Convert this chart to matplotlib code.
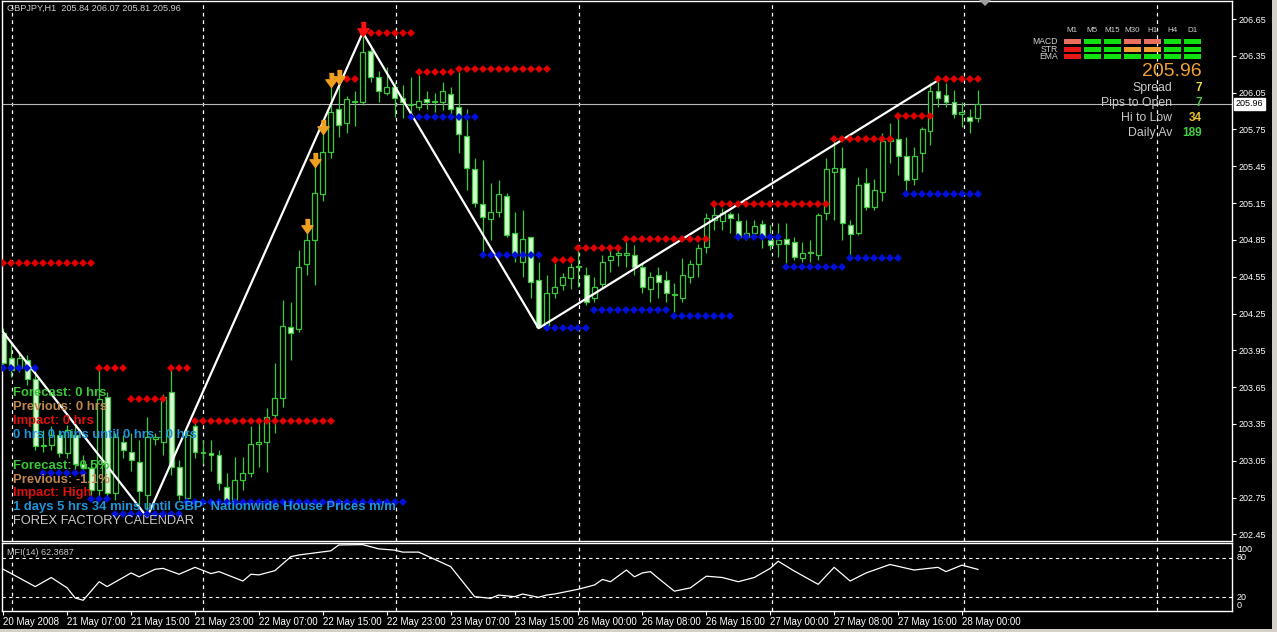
import numpy as np
import matplotlib
matplotlib.use('Agg')
import matplotlib.pyplot as plt
from matplotlib.patches import Rectangle, Polygon
from matplotlib import transforms

plt.rcParams['font.family'] = ['Liberation Sans', 'DejaVu Sans']

# GBPJPY H1 candles, bar 0 = 20 May 2008 23:00
opens = [204.09, 203.89, 203.81, 203.87, 203.72, 203.17, 203.18, 203.26, 203.11, 203.26,
         203.02, 202.99, 202.81, 203.57, 202.79, 203.20, 203.12, 203.04, 202.77, 203.23,
         203.20, 203.61, 203.00, 202.75, 203.33, 203.11, 203.11, 203.10, 202.84, 202.73,
         202.89, 202.95, 203.19, 203.20, 203.42, 203.56, 204.14, 204.12, 204.65, 204.85,
         205.22, 205.57, 205.92, 205.80, 205.97, 205.97, 206.39, 206.18, 206.05, 206.10,
         206.01, 205.95, 205.93, 206.00, 205.97, 205.97, 206.04, 205.93, 205.70, 205.43,
         205.14, 205.02, 205.08, 205.21, 204.91, 204.67, 204.87, 204.52, 204.16, 204.42,
         204.48, 204.54, 204.63, 204.56, 204.38, 204.49, 204.69, 204.73, 204.73, 204.73,
         204.63, 204.45, 204.56, 204.52, 204.40, 204.38, 204.55, 204.65, 204.79, 205.01,
         205.00, 205.06, 205.00, 204.87, 204.91, 204.98, 204.85, 204.82, 204.86, 204.83,
         204.70, 204.74, 204.73, 205.07, 205.40, 205.44, 204.97, 204.91, 205.31, 205.12,
         205.24, 205.66, 205.67, 205.53, 205.35, 205.56, 205.74, 206.06, 206.03, 205.97,
         205.88, 205.85, 205.84]
highs = [204.13, 204.01, 203.94, 203.91, 203.81, 203.30, 203.33, 203.30, 203.34, 203.34,
         203.10, 203.06, 203.81, 203.61, 203.28, 203.26, 203.28, 203.22, 203.41, 203.28,
         203.59, 203.81, 203.06, 203.30, 203.38, 203.22, 203.22, 203.14, 202.95, 203.08,
         203.08, 203.33, 203.36, 203.48, 203.85, 204.36, 204.34, 204.77, 204.93, 205.48,
         205.75, 206.10, 206.21, 206.02, 206.06, 206.54, 206.41, 206.23, 206.26, 206.14,
         206.11, 206.18, 206.19, 206.06, 206.05, 206.14, 206.10, 206.22, 205.92, 205.52,
         205.50, 205.31, 205.34, 205.23, 205.08, 205.09, 204.87, 204.67, 204.56, 204.66,
         204.58, 204.66, 204.77, 204.63, 204.55, 204.73, 204.79, 204.81, 204.83, 204.81,
         204.66, 204.59, 204.63, 204.60, 204.50, 204.70, 204.69, 204.82, 205.07, 205.13,
         205.11, 205.08, 205.07, 205.01, 205.01, 205.01, 204.97, 204.99, 204.99, 204.87,
         204.83, 204.85, 205.07, 205.52, 205.68, 205.61, 205.01, 205.36, 205.44, 205.35,
         205.72, 205.80, 205.84, 205.69, 205.61, 205.77, 206.13, 206.15, 206.13, 206.07,
         205.97, 205.92, 206.07]
lows = [203.81, 203.73, 203.77, 203.67, 203.14, 203.12, 203.14, 203.08, 203.07, 202.97,
        202.92, 202.73, 202.75, 202.73, 202.73, 203.07, 202.97, 202.69, 202.59, 203.18,
        203.10, 202.93, 202.73, 202.73, 203.07, 203.02, 202.97, 202.81, 202.71, 202.71,
        202.81, 202.92, 203.00, 202.96, 203.28, 203.49, 203.87, 204.10, 204.56, 204.48,
        205.17, 205.52, 205.69, 205.72, 205.78, 205.95, 206.14, 205.97, 206.03, 205.85,
        205.84, 205.85, 205.91, 205.92, 205.89, 205.91, 205.85, 205.56, 205.26, 205.12,
        204.74, 204.85, 205.04, 204.87, 204.67, 204.55, 204.38, 204.13, 204.14, 204.38,
        204.44, 204.45, 204.47, 204.32, 204.34, 204.46, 204.59, 204.64, 204.63, 204.56,
        204.42, 204.34, 204.38, 204.34, 204.26, 204.34, 204.50, 204.55, 204.74, 204.93,
        204.93, 204.91, 204.85, 204.85, 204.87, 204.78, 204.77, 204.71, 204.66, 204.69,
        204.67, 204.67, 204.69, 205.01, 205.01, 204.85, 204.73, 204.89, 205.09, 205.09,
        205.17, 205.48, 205.38, 205.24, 205.30, 205.40, 205.62, 205.93, 205.93, 205.84,
        205.77, 205.72, 205.81]
closes = [203.85, 203.79, 203.89, 203.72, 203.17, 203.18, 203.26, 203.11, 203.30, 203.02,
          202.99, 202.81, 203.55, 202.79, 203.24, 203.14, 203.06, 202.80, 203.24, 203.24,
          203.57, 203.00, 202.77, 203.26, 203.12, 203.12, 203.10, 202.87, 202.73, 202.89,
          202.95, 203.19, 203.20, 203.41, 203.56, 204.15, 204.09, 204.63, 204.85, 205.23,
          205.57, 205.89, 205.79, 206.00, 205.98, 206.38, 206.18, 206.06, 206.10, 206.01,
          205.97, 205.96, 205.98, 205.97, 205.98, 206.06, 205.92, 205.71, 205.44, 205.15,
          205.04, 205.08, 205.22, 204.89, 204.74, 204.86, 204.51, 204.14, 204.42, 204.47,
          204.55, 204.63, 204.64, 204.34, 204.47, 204.67, 204.72, 204.74, 204.74, 204.63,
          204.47, 204.55, 204.51, 204.42, 204.41, 204.56, 204.65, 204.78, 205.03, 205.05,
          205.07, 205.03, 204.87, 204.91, 204.96, 204.87, 204.81, 204.85, 204.82, 204.71,
          204.74, 204.75, 205.05, 205.43, 205.44, 204.99, 204.90, 205.30, 205.12, 205.26,
          205.66, 205.67, 205.53, 205.34, 205.53, 205.75, 206.06, 206.01, 205.97, 205.88,
          205.89, 205.82, 205.96]

# diamond levels (first bar, last bar, price)
res_levels = [(0, 11, 204.66), (12, 15, 203.81), (16, 20, 203.55), (21, 23, 203.81),
              (24, 41, 203.37), (42, 44, 206.16), (45, 51, 206.54), (52, 56, 206.22),
              (57, 68, 206.24), (69, 71, 204.69), (72, 77, 204.78), (78, 88, 204.86),
              (89, 103, 205.14), (104, 111, 205.67), (112, 116, 205.86), (117, 122, 206.16)]
sup_levels = [(0, 4, 203.81), (5, 10, 202.95), (11, 13, 202.74), (14, 22, 202.62),
              (23, 50, 202.71), (51, 59, 205.85), (60, 67, 204.73), (68, 73, 204.13),
              (74, 83, 204.28), (84, 91, 204.23), (92, 97, 204.87), (98, 105, 204.63),
              (106, 112, 204.70), (113, 122, 205.22)]

zz_bars = [-1, 18, 45, 67, 117]
zz_prices = [204.18, 202.59, 206.54, 204.13, 206.15]

arrow_bars = [38, 39, 40, 41, 42]
arrow_prices = [204.96, 205.50, 205.77, 206.15, 206.18]
top_arrow_bar, top_arrow_price = 45, 206.57

mfi_bars = [0, 1, 4, 6, 8, 9, 10, 12, 13, 16, 17, 19, 20, 22, 24, 26, 27, 30, 31, 32, 34, 36,
            37, 41, 42, 45, 47, 49, 50, 52, 56, 59, 61, 62, 64, 65, 67, 68, 69, 72, 74, 75,
            76, 78, 79, 80, 81, 82, 84, 86, 88, 90, 92, 94, 96, 97, 99, 102, 104, 106, 108,
            111, 114, 117, 118, 120, 122]
mfi_vals = [62.6, 56, 36, 50, 34, 18.5, 15, 43.5, 36, 57, 51, 62.6, 64, 55, 65.6, 56, 59, 44.6,
            55, 54, 60.5, 82, 84.6, 91, 100, 100.5, 94, 92, 89, 89, 66.7, 20.5, 18, 23, 20.5,
            24.6, 19.5, 23, 24.6, 32, 38.5, 47, 43.5, 61.5, 51, 57, 59, 48.7, 29, 34, 52, 50,
            43.5, 50, 64, 75, 60, 39.5, 65.6, 44.6, 57, 70, 61.5, 65.6, 59, 69, 62.4]

time_labels = ['20 May 2008', '21 May 07:00', '21 May 15:00', '21 May 23:00', '22 May 07:00',
               '22 May 15:00', '22 May 23:00', '23 May 07:00', '23 May 15:00', '26 May 00:00',
               '26 May 08:00', '26 May 16:00', '27 May 00:00', '27 May 08:00', '27 May 16:00',
               '28 May 00:00']
label_bars = list(range(0, 121, 8))
grid_bars = [1.1, 25.0, 49.1, 72.1, 96.2, 120.2, 144.4]

tfs = ['M1', 'M5', 'M15', 'M30', 'H1', 'H4', 'D1']
sig_rows = ['MACD', 'STR', 'EMA']
sig_colors = [['#e8705c', '#10e010', '#10e010', '#e8705c', '#e8705c', '#10e010', '#10e010'],
              ['#e81818', '#10e010', '#10e010', '#f0a030', '#f0a030', '#10e010', '#10e010'],
              ['#e81818', '#10e010', '#10e010', '#10e010', '#10e010', '#10e010', '#10e010']]

W, H = 1277, 632
def fx(px):
    return px / W
def fy(py):
    return 1 - py / H

fig = plt.figure(figsize=(W / 100, H / 100), dpi=100, facecolor='black')
ax = fig.add_axes([fx(2), fy(541), fx(1232) - fx(2), fy(1) - fy(541)], facecolor='black')
axm = fig.add_axes([fx(2), fy(611), fx(1232) - fx(2), fy(543) - fy(611)], facecolor='black')

wick = '#3cc83c'
bear_fill = '#d8f8d4'
o = np.array(opens); c = np.array(closes); hi = np.array(highs); lo = np.array(lows)
x = np.arange(len(o))
up = c >= o
bot = np.minimum(o, c)
hgt = np.abs(c - o)

ax.vlines(x, lo, hi, color=wick, lw=0.9, zorder=2)
ax.bar(x[up], hgt[up], bottom=bot[up], width=0.62, color='black', edgecolor=wick, linewidth=0.9, zorder=3)
ax.bar(x[~up], hgt[~up], bottom=bot[~up], width=0.62, color=bear_fill, edgecolor=wick, linewidth=0.9, zorder=3)

ax.plot(zz_bars, zz_prices, color='white', lw=1.6, zorder=4)

for a, b, p in res_levels:
    n = np.arange(a, b + 1)
    ax.plot(n, [p] * len(n), 'D', color='#e00000', ms=4.4, mew=0, zorder=5)
for a, b, p in sup_levels:
    n = np.arange(a, b + 1)
    ax.plot(n, [p] * len(n), 'D', color='#0010d8', ms=4.4, mew=0, zorder=5)

arrow = [(-0.3, 1), (0.3, 1), (0.3, 0.1), (0.8, 0.1), (0, -1), (-0.8, 0.1), (-0.3, 0.1)]
ax.plot(arrow_bars, arrow_prices, ls='none', marker=arrow, color='#f0a020', ms=10, zorder=6)
ax.plot([top_arrow_bar], [top_arrow_price], ls='none', marker=arrow, color='#ff1010', ms=10, zorder=6)

for g in grid_bars:
    ax.axvline(g, color='white', lw=0.9, ls=(0, (3, 3)), zorder=1)
    axm.axvline(g, color='white', lw=0.9, ls=(0, (3, 3)), zorder=1)

ax.axhline(closes[-1], color='#b8b8b8', lw=0.8, zorder=1)

ax.set_xlim(-0.16, 153.8)
ax.set_ylim(202.396, 206.797)
ax.set_yticks(np.round(np.arange(202.45, 206.66, 0.30), 2))
ax.yaxis.set_major_formatter(matplotlib.ticker.FormatStrFormatter('%.2f'))
ax.yaxis.tick_right()
ax.tick_params(axis='y', colors='white', length=3, width=0.8, labelsize=6.5, pad=2)
ax.tick_params(axis='x', bottom=False, labelbottom=False)
for s in ax.spines.values():
    s.set_color('white')
    s.set_linewidth(1)

tr = transforms.blended_transform_factory(ax.transAxes, ax.transData)
ax.text(1.003, closes[-1], '%.2f' % closes[-1], transform=tr, ha='left', va='center',
        fontsize=6.5, color='black', bbox=dict(facecolor='white', edgecolor='white', pad=1.2))

# MFI panel
axm.plot(mfi_bars, mfi_vals, color='white', lw=0.9)
axm.axhline(80, color='white', lw=0.8, ls=(0, (3, 3)))
axm.axhline(20, color='white', lw=0.8, ls=(0, (3, 3)))
axm.set_xlim(-0.16, 153.8)
axm.set_ylim(-1.5, 103)
axm.set_yticks([])
axm.set_xticks(label_bars)
axm.set_xticklabels(time_labels, ha='left')
axm.tick_params(axis='x', colors='white', length=3, width=0.8, labelsize=7, pad=1)
for s in axm.spines.values():
    s.set_color('white')
    s.set_linewidth(1)
trm = transforms.blended_transform_factory(axm.transAxes, axm.transData)
axm.text(1.004, 100, '100', transform=trm, ha='left', va='top', fontsize=6.5, color='white')
axm.text(1.004, 80, '80', transform=trm, ha='left', va='center', fontsize=6.5, color='white')
axm.text(1.004, 20, '20', transform=trm, ha='left', va='center', fontsize=6.5, color='white')
axm.text(1.004, 0, '0', transform=trm, ha='left', va='bottom', fontsize=6.5, color='white')
axm.text(0.004, 0.86, 'MFI(14) %.4f' % 62.3687, transform=axm.transAxes, ha='left', va='center',
         fontsize=6.5, color='#c8c8c8')

# overlay texts
fig.text(fx(7), fy(8), 'GBPJPY,H1  %.2f %.2f %.2f %.2f' % (opens[-1], highs[-1], lows[-1], closes[-1]),
         ha='left', va='center', fontsize=6.6, color='#d0d0d0')

green, tan, red, blue = '#38c838', '#c08850', '#e01010', '#1e96dc'
cal = [('Forecast: 0 hrs', green, 393), ('Previous: 0 hrs', tan, 407), ('Impact: 0 hrs', red, 421),
       ('0 hrs 0 mins until 0 hrs : 0 hrs', blue, 435),
       ('Forecast: -0.5%', green, 466), ('Previous: -1.1%', tan, 480), ('Impact: High', red, 493),
       ('1 days 5 hrs 34 mins until GBP: Nationwide House Prices m/m', blue, 507)]
for t, col, yy in cal:
    fig.text(fx(13), fy(yy), t, ha='left', va='center', fontsize=9.4, fontweight='bold', color=col, zorder=10)
fig.text(fx(13), fy(521), 'FOREX FACTORY CALENDAR', ha='left', va='center', fontsize=9.3,
         color='#c8c8c8', zorder=10)

# signal matrix top right
col_x = [1072, 1092, 1112, 1132, 1152, 1172, 1192]
row_y = [41.7, 49.2, 56.8]
for j, tf in enumerate(tfs):
    fig.text(fx(col_x[j]), fy(31), tf, ha='center', va='center', fontsize=5.8, color='#d0d0d0')
for i, rname in enumerate(sig_rows):
    fig.text(fx(1058), fy(row_y[i]), rname, ha='right', va='center', fontsize=6.2, color='#d0d0d0')
    for j in range(len(tfs)):
        fig.add_artist(Rectangle((fx(col_x[j] - 8.5), fy(row_y[i] + 2.5)), 17 / W, 5 / H,
                                 transform=fig.transFigure, color=sig_colors[i][j], lw=0))

fig.text(fx(1202), fy(72), '%.2f' % closes[-1], ha='right', va='center', fontsize=14, color='#f0a035')
info = [('Spread', '7', '#e8e040', 88), ('Pips to Open', '7', '#40c840', 103),
        ('Hi to Low', '34', '#e8c030', 118), ('Daily Av', '189', '#40d040', 133)]
for name, val, col, yy in info:
    fig.text(fx(1172), fy(yy), name, ha='right', va='center', fontsize=8.8, color='#c8c8c8')
    fig.text(fx(1202), fy(yy), val, ha='right', va='center', fontsize=8.5, fontweight='bold', color=col)

# window details
fig.add_artist(Polygon([(fx(979), fy(0)), (fx(991), fy(0)), (fx(985), fy(6))], closed=True,
                       transform=fig.transFigure, color='#a0a0a0', lw=0))
fig.add_artist(Rectangle((fx(1272), 0), 5 / W, 1, transform=fig.transFigure, color='#d4d0c8', lw=0))
fig.add_artist(Rectangle((0, 0), 1, 3 / H, transform=fig.transFigure, color='#d4d0c8', lw=0))

fig.savefig('out.png', dpi=100, facecolor='black')
